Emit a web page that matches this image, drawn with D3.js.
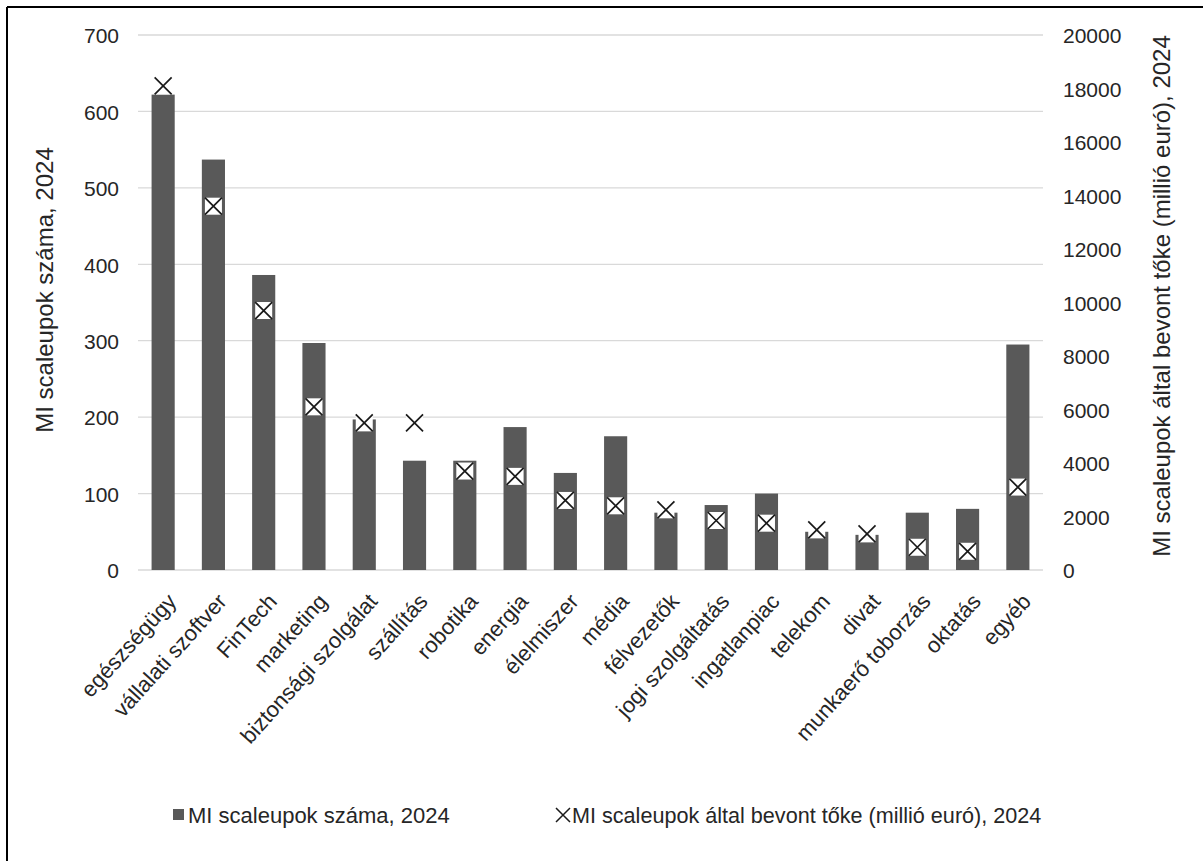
<!DOCTYPE html>
<html>
<head>
<meta charset="utf-8">
<script src="https://cdn.jsdelivr.net/npm/d3@7"></script>
<style>
  html, body { margin: 0; padding: 0; background: #fff; }
  svg { display: block; font-family: "Liberation Sans", Arial, sans-serif; }
</style>
</head>
<body>
<svg id="chart" width="1203" height="861"></svg>
<script>
// Sectors
const categories = [
  "egészségügy", "vállalati szoftver", "FinTech", "marketing",
  "biztonsági szolgálat", "szállítás", "robotika", "energia",
  "élelmiszer", "média", "félvezetők", "jogi szolgáltatás",
  "ingatlanpiac", "telekom", "divat", "munkaerő toborzás",
  "oktatás", "egyéb"
];
// Number of AI scaleups per sector (left axis)
const scaleupCounts = [622, 537, 386, 297, 197, 143, 143, 187, 127, 175, 75, 85, 100, 50, 46, 75, 80, 295];
// Capital raised, million EUR (right axis)
const capitalRaised = [18100, 13600, 9700, 6100, 5500, 5500, 3700, 3500, 2600, 2400, 2250, 1850, 1750, 1500, 1350, 850, 700, 3100];

const leftTicks = [0, 100, 200, 300, 400, 500, 600, 700];
const rightTicks = [0, 2000, 4000, 6000, 8000, 10000, 12000, 14000, 16000, 18000, 20000];

const barLabel = "MI scaleupok száma, 2024";
const markLabel = "MI scaleupok által bevont tőke (millió euró), 2024";

const svg = d3.select("#chart");
const W = 1203, H = 861;
const plot = { left: 138, right: 1043, top: 35, bottom: 570 };
const barColor = "#595959";
const textColor = "#262626";
const tickFont = 21;
const catFont = 22;
const legendFont = 22;
const titleFont = 24;

// frame lines
svg.append("line").attr("x1", 7).attr("x2", W).attr("y1", 7).attr("y2", 7)
  .attr("stroke", "#000").attr("stroke-width", 2);
svg.append("line").attr("x1", 7).attr("x2", 7).attr("y1", 7).attr("y2", H)
  .attr("stroke", "#000").attr("stroke-width", 2);

const x = d3.scaleBand().domain(categories)
  .range([plot.left, plot.right]).paddingInner(0.54).paddingOuter(0.27);
const yL = d3.scaleLinear().domain([0, 700]).range([plot.bottom, plot.top]);
const yR = d3.scaleLinear().domain([0, 20000]).range([plot.bottom, plot.top]);

// gridlines
svg.append("g").selectAll("line").data(leftTicks).join("line")
  .attr("x1", plot.left).attr("x2", plot.right)
  .attr("y1", d => yL(d)).attr("y2", d => yL(d))
  .attr("stroke", "#d9d9d9").attr("stroke-width", 1.3);

// left axis
const leftAxis = svg.append("g").attr("transform", `translate(${plot.left - 19},1)`)
  .call(d3.axisLeft(yL).tickValues(leftTicks).tickSize(0).tickPadding(0));
leftAxis.select(".domain").remove();
leftAxis.selectAll("text").attr("font-size", tickFont).attr("fill", textColor)
  .attr("font-family", "Liberation Sans, Arial, sans-serif");

// right axis
const rightAxis = svg.append("g").attr("transform", `translate(${plot.right + 20},1)`)
  .call(d3.axisRight(yR).tickValues(rightTicks).tickSize(0).tickPadding(0).tickFormat(d3.format("d")));
rightAxis.select(".domain").remove();
rightAxis.selectAll("text").attr("font-size", tickFont).attr("fill", textColor)
  .attr("font-family", "Liberation Sans, Arial, sans-serif");

// bars
svg.append("g").selectAll("rect").data(categories).join("rect")
  .attr("x", d => x(d))
  .attr("width", x.bandwidth())
  .attr("y", (d, i) => yL(scaleupCounts[i]))
  .attr("height", (d, i) => yL(0) - yL(scaleupCounts[i]))
  .attr("fill", barColor);

// capital markers: boxed X on the right scale
const m = 8.5;
const marks = svg.append("g").selectAll("g").data(categories).join("g")
  .attr("transform", (d, i) => `translate(${x(d) + x.bandwidth() / 2},${yR(capitalRaised[i])})`);
marks.append("rect").attr("x", -m).attr("y", -m).attr("width", 2 * m).attr("height", 2 * m)
  .attr("fill", "#fff");
marks.append("path").attr("d", `M${-m},${-m}L${m},${m}M${-m},${m}L${m},${-m}`)
  .attr("stroke", "#1a1a1a").attr("stroke-width", 1.7).attr("fill", "none");

// category labels
svg.append("g").selectAll("text").data(categories).join("text")
  .attr("transform", d => `translate(${x(d) + x.bandwidth() / 2 + 3},${plot.bottom + 22}) rotate(-48)`)
  .attr("text-anchor", "end")
  .attr("dy", "0.7em")
  .attr("font-size", catFont).attr("fill", textColor)
  .text(d => d);

// axis titles
svg.append("text")
  .attr("transform", `translate(53,290) rotate(-90)`)
  .attr("text-anchor", "middle").attr("font-size", titleFont).attr("fill", textColor)
  .text(barLabel);
svg.append("text")
  .attr("transform", `translate(1170,296) rotate(-90)`)
  .attr("text-anchor", "middle").attr("font-size", titleFont).attr("fill", textColor)
  .text(markLabel);

// legend
const legend = svg.append("g");
legend.append("rect").attr("x", 173).attr("y", 809).attr("width", 11).attr("height", 11)
  .attr("fill", barColor);
legend.append("text").attr("x", 188).attr("y", 823).attr("font-size", legendFont)
  .attr("fill", textColor).text(barLabel);
const lx = 563, ly = 815, lm = 7;
legend.append("path").attr("d", `M${lx - lm},${ly - lm}L${lx + lm},${ly + lm}M${lx - lm},${ly + lm}L${lx + lm},${ly - lm}`)
  .attr("stroke", "#1a1a1a").attr("stroke-width", 1.5);
legend.append("text").attr("x", 572).attr("y", 823).attr("font-size", 21.6)
  .attr("fill", textColor).text(markLabel);
</script>
</body>
</html>
